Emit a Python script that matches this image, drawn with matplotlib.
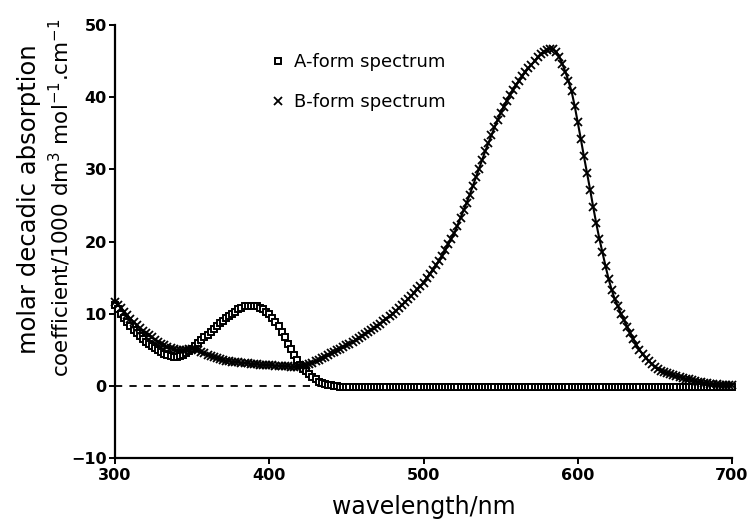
import matplotlib
matplotlib.use("Agg")
import matplotlib.pyplot as plt
import numpy as np

wavelength = list(range(300, 701, 2))

a_form = [
    11.2, 10.6, 10.0, 9.4, 8.8, 8.3, 7.8, 7.35, 6.9, 6.5,
    6.1, 5.8, 5.5, 5.2, 4.9, 4.65, 4.4, 4.25, 4.1, 4.0,
    4.05, 4.15, 4.3, 4.55, 4.8, 5.15, 5.5, 5.9, 6.3, 6.7,
    7.1, 7.5, 7.9, 8.3, 8.7, 9.05, 9.4, 9.7, 10.0, 10.3,
    10.6, 10.8, 11.0, 11.05, 11.1, 11.05, 11.0, 10.8, 10.6, 10.3,
    9.9, 9.45, 8.9, 8.25, 7.5, 6.7, 5.8, 5.05, 4.3, 3.6,
    2.9, 2.4, 2.0, 1.6, 1.2, 0.9, 0.6, 0.4, 0.25, 0.12,
    0.05, -0.02, -0.08, -0.12, -0.15, -0.17, -0.18, -0.2, -0.2, -0.2,
    -0.2, -0.21, -0.2, -0.2, -0.19, -0.2, -0.2, -0.21, -0.2, -0.2,
    -0.2, -0.2, -0.19, -0.2, -0.2, -0.2, -0.21, -0.2, -0.2, -0.2,
    -0.2, -0.2, -0.2, -0.19, -0.2, -0.2, -0.2, -0.2, -0.21, -0.2,
    -0.2, -0.2, -0.2, -0.2, -0.2, -0.19, -0.2, -0.2, -0.2, -0.2,
    -0.2, -0.21, -0.2, -0.2, -0.2, -0.2, -0.2, -0.19, -0.2, -0.2,
    -0.2, -0.2, -0.2, -0.2, -0.21, -0.2, -0.2, -0.2, -0.2, -0.2,
    -0.19, -0.2, -0.2, -0.2, -0.2, -0.2, -0.2, -0.21, -0.2, -0.2,
    -0.2, -0.2, -0.2, -0.19, -0.2, -0.2, -0.2, -0.2, -0.2, -0.2,
    -0.21, -0.2, -0.2, -0.2, -0.2, -0.2, -0.19, -0.2, -0.2, -0.2,
    -0.2, -0.2, -0.2, -0.2, -0.21, -0.2, -0.2, -0.2, -0.2, -0.2,
    -0.2, -0.19, -0.2, -0.2, -0.2, -0.2, -0.2, -0.2, -0.21, -0.2,
    -0.2, -0.2, -0.2, -0.2, -0.2, -0.19, -0.2, -0.2, -0.2, -0.2,
    -0.2,
]

b_form = [
    11.6, 11.2, 10.8, 10.3, 9.8, 9.3, 8.8, 8.4, 8.0, 7.6,
    7.3, 7.0, 6.7, 6.4, 6.1, 5.85, 5.6, 5.4, 5.2, 5.05,
    4.95, 4.9, 4.9, 5.0, 5.1, 5.15, 5.1, 4.9, 4.7, 4.5,
    4.3, 4.15, 4.0, 3.85, 3.7, 3.6, 3.5, 3.42, 3.35, 3.3,
    3.25, 3.2, 3.15, 3.1, 3.05, 3.0, 2.97, 2.94, 2.91, 2.88,
    2.85, 2.82, 2.79, 2.76, 2.73, 2.7, 2.68, 2.66, 2.65, 2.65,
    2.7, 2.8, 2.9, 3.05, 3.2, 3.4, 3.6, 3.8, 4.0, 4.25,
    4.5, 4.7, 4.9, 5.15, 5.4, 5.6, 5.85, 6.1, 6.35, 6.6,
    6.9, 7.2, 7.5, 7.75, 8.0, 8.3, 8.6, 8.95, 9.3, 9.65,
    10.0, 10.4, 10.8, 11.2, 11.6, 12.0, 12.45, 12.9, 13.35, 13.8,
    14.3, 14.9, 15.5, 16.1, 16.7, 17.3, 18.0, 18.8, 19.6, 20.4,
    21.2, 22.2, 23.3, 24.3, 25.4, 26.5, 27.7, 28.9, 30.1, 31.3,
    32.5, 33.6, 34.7, 35.8, 36.8, 37.8, 38.7, 39.5, 40.3, 41.0,
    41.7, 42.3, 42.9, 43.5, 44.0, 44.5, 45.0, 45.5, 46.0, 46.3,
    46.6, 46.7, 46.7, 46.3, 45.6, 44.6, 43.5, 42.2, 40.8, 38.8,
    36.5, 34.2, 31.8, 29.5, 27.2, 24.8, 22.5, 20.4, 18.5, 16.6,
    14.8, 13.3, 12.0, 11.0, 10.0, 9.1, 8.2, 7.3, 6.5, 5.7,
    5.0, 4.4, 3.9, 3.4, 3.0, 2.6, 2.3, 2.1, 1.9, 1.75,
    1.65, 1.5, 1.35, 1.2, 1.1, 1.0, 0.88, 0.78, 0.68, 0.6,
    0.5, 0.44, 0.38, 0.32, 0.27, 0.22, 0.18, 0.14, 0.1, 0.07,
    0.05,
]

x_ticks = [300, 400, 500, 600, 700]
y_ticks = [-10, 0, 10, 20, 30, 40, 50]
series_labels = ["A-form spectrum", "B-form spectrum"]
ylabel_lines = ["molar decadic absorption",
                "coefficient/1000 dm$^3$ mol$^{-1}$.cm$^{-1}$"]

plt.rcParams['font.family'] = ['DejaVu Sans']

W, H = 752, 526
fig = plt.figure(figsize=(W / 100, H / 100), dpi=100)
ax = fig.add_axes([115/W, 1 - 458/H, (732 - 115)/W, (458 - 25)/H])

ax.axhline(0, color='black', lw=1.3, ls=(0, (4, 4)), zorder=1)

ax.plot(wavelength, a_form, ls='none', marker='s', ms=4.8, mfc='white',
        mec='black', mew=1.4, color='black', clip_on=False, zorder=3,
        label=series_labels[0])
ax.plot(wavelength, b_form, ls='-', lw=1.5, marker='x', ms=5.5, mew=1.3,
        color='black', clip_on=False, zorder=4, label=series_labels[1])

ax.set_xlim(300, 700)
ax.set_ylim(-10, 50)
ax.set_xticks(x_ticks)
ax.set_yticks(y_ticks)
ax.set_xticklabels([str(t) for t in x_ticks], fontweight='bold', fontsize=11.5)
ax.set_yticklabels([str(t).replace('-', '\u2212') for t in y_ticks], fontweight='bold', fontsize=11.5)

for s in ['top', 'right']:
    ax.spines[s].set_visible(False)
for s in ['left', 'bottom']:
    ax.spines[s].set_linewidth(1.6)
ax.tick_params(direction='out', length=4, width=1.4)
ax.tick_params(axis='y', pad=2)
ax.tick_params(axis='x', pad=3)

ax.set_xlabel('wavelength/nm', fontsize=17)
ax.xaxis.set_label_coords(0.5, -0.085)

fig.text(29 / W, 1 - 199 / H, ylabel_lines[0], rotation=90, fontsize=17.5,
         ha='center', va='center')
fig.text(60 / W, 1 - 198 / H, ylabel_lines[1], rotation=90, fontsize=15.5,
         ha='center', va='center')

leg = ax.legend(loc='center left', bbox_to_anchor=(0.226, 0.868), frameon=False,
                fontsize=13, handlelength=0.8, handletextpad=0.5,
                labelspacing=1.25, numpoints=1, markerscale=1.0)
for h in leg.legend_handles:
    h.set_linestyle('none')

fig.savefig('out.png', dpi=100)
